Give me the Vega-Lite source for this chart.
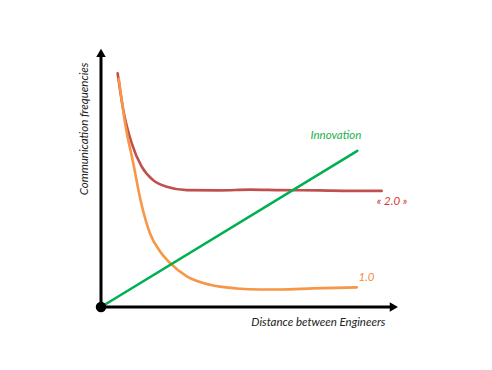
{
  "$schema": "https://vega.github.io/schema/vega-lite/v6.json",
  "width": 297,
  "height": 258,
  "autosize": "none",
  "padding": {"left": 101, "top": 49, "right": 94, "bottom": 63},
  "background": "white",
  "config": {"view": {"stroke": null}},
  "datasets": {
    "axes": [
      {"x": 0, "y": 0, "x2": 0, "y2": 98},
      {"x": 0, "y": 0, "x2": 98, "y2": 0}
    ],
    "heads": [
      {"x": 0, "y": 98.5, "shape": "triangle-up"},
      {"x": 98.6, "y": 0, "shape": "triangle-right"}
    ],
    "origin": [{"x": 0, "y": 0}],
    "curves": [
      {"series": "2.0", "x": 5.6, "y": 90.6},
      {"series": "2.0", "x": 7.5, "y": 76.4},
      {"series": "2.0", "x": 10.3, "y": 63.6},
      {"series": "2.0", "x": 13.7, "y": 54.4},
      {"series": "2.0", "x": 17.5, "y": 49.2},
      {"series": "2.0", "x": 22.1, "y": 46.6},
      {"series": "2.0", "x": 28.9, "y": 45.3},
      {"series": "2.0", "x": 40.1, "y": 45.2},
      {"series": "2.0", "x": 50.2, "y": 45.5},
      {"series": "2.0", "x": 60.3, "y": 45.3},
      {"series": "2.0", "x": 73.7, "y": 45.2},
      {"series": "2.0", "x": 83.8, "y": 45.0},
      {"series": "2.0", "x": 94.5, "y": 45.0},
      {"series": "1.0", "x": 6.0, "y": 88.5},
      {"series": "1.0", "x": 8.1, "y": 71.3},
      {"series": "1.0", "x": 10.9, "y": 55.5},
      {"series": "1.0", "x": 13.4, "y": 41.0},
      {"series": "1.0", "x": 16.5, "y": 28.5},
      {"series": "1.0", "x": 19.9, "y": 21.5},
      {"series": "1.0", "x": 23.2, "y": 17.1},
      {"series": "1.0", "x": 28.9, "y": 11.9},
      {"series": "1.0", "x": 36.7, "y": 8.6},
      {"series": "1.0", "x": 45.7, "y": 7.2},
      {"series": "1.0", "x": 53.5, "y": 6.8},
      {"series": "1.0", "x": 60.3, "y": 6.8},
      {"series": "1.0", "x": 71.4, "y": 7.2},
      {"series": "1.0", "x": 86.1, "y": 7.6},
      {"series": "Innovation", "x": 0, "y": 0},
      {"series": "Innovation", "x": 86.3, "y": 60.5}
    ],
    "labels": [
      {"series": "Innovation", "text": "Innovation", "x": 79.1, "y": 66.4},
      {"series": "2.0", "text": "« 2.0 »", "x": 98.0, "y": 40.8},
      {"series": "1.0", "text": "1.0", "x": 89.4, "y": 11.1}
    ],
    "titles": [
      {"text": "Distance between Engineers", "x": 73.2, "y": -6.3, "angle": 0},
      {"text": "Communication  frequencies", "x": -5.4, "y": 69.0, "angle": 270}
    ]
  },
  "encoding": {
    "x": {"field": "x", "type": "quantitative", "scale": {"domain": [0, 100], "nice": false, "zero": false}, "axis": null},
    "y": {"field": "y", "type": "quantitative", "scale": {"domain": [0, 100], "nice": false, "zero": false}, "axis": null}
  },
  "layer": [
    {
      "data": {"name": "curves"},
      "mark": {"type": "line", "interpolate": "monotone", "strokeWidth": 2.6, "strokeCap": "round"},
      "encoding": {
        "color": {"field": "series", "type": "nominal", "scale": {"domain": ["2.0", "1.0", "Innovation"], "range": ["#c0504d", "#f79646", "#00b050"]}, "legend": null},
        "order": {"field": "x", "type": "quantitative"}
      }
    },
    {
      "data": {"name": "axes"},
      "mark": {"type": "rule", "color": "black", "strokeWidth": 3},
      "encoding": {
        "x2": {"field": "x2"},
        "y2": {"field": "y2"}
      }
    },
    {
      "data": {"name": "heads"},
      "mark": {"type": "point", "filled": true, "color": "black", "opacity": 1, "size": 90},
      "encoding": {
        "shape": {"field": "shape", "type": "nominal", "scale": null}
      }
    },
    {
      "data": {"name": "origin"},
      "mark": {"type": "circle", "color": "black", "opacity": 1, "size": 110},
      "encoding": {}
    },
    {
      "data": {"name": "labels"},
      "mark": {"type": "text", "font": "Lato", "fontStyle": "italic", "fontSize": 11.5, "align": "center", "baseline": "middle"},
      "encoding": {
        "text": {"field": "text"},
        "color": {"field": "series", "type": "nominal", "scale": {"domain": ["2.0", "1.0", "Innovation"], "range": ["#d9352f", "#f28a3c", "#22b14c"]}, "legend": null}
      }
    },
    {
      "data": {"name": "titles"},
      "mark": {"type": "text", "font": "Lato", "fontStyle": "italic", "fontSize": 11.5, "align": "center", "baseline": "middle", "color": "#222222"},
      "encoding": {
        "text": {"field": "text"},
        "angle": {"field": "angle", "type": "quantitative", "scale": null}
      }
    }
  ],
  "resolve": {"scale": {"color": "independent"}}
}
